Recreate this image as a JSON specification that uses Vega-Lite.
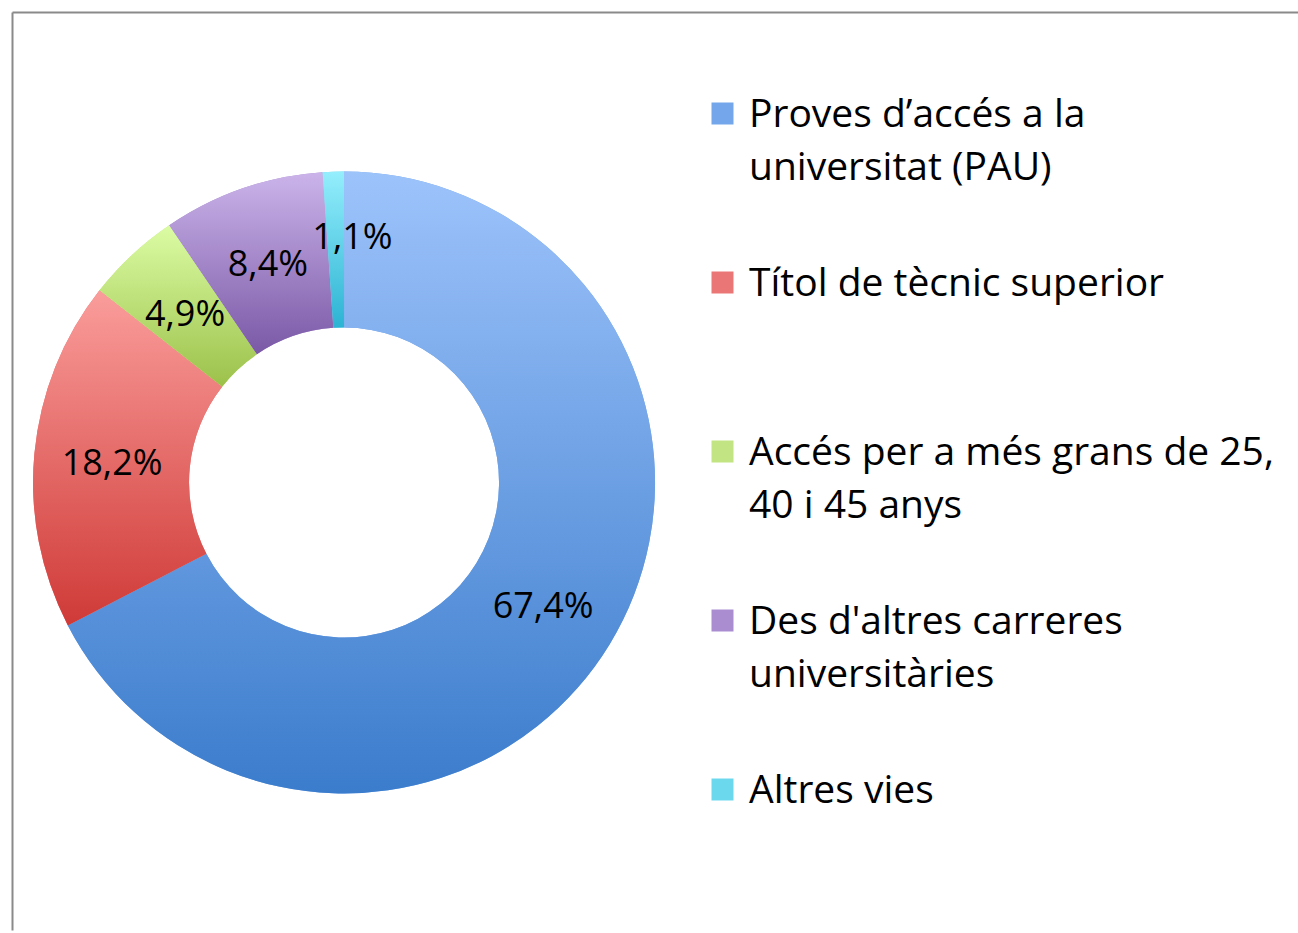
{
  "$schema": "https://vega.github.io/schema/vega-lite/v6.json",
  "autosize": {"type": "fit", "contains": "padding"},
  "width": 1298,
  "height": 933,
  "padding": {"left": 9, "top": 12, "right": 0, "bottom": 0},
  "background": "white",
  "config": {
    "view": {"stroke": null},
    "font": "Open Sans",
    "style": {"guide-label": {"lineHeight": 53, "dy": 13}}
  },
  "data": {
    "values": [
      {"cat": "Proves d’accés a la universitat (PAU)", "pct": 67.4, "order": 1},
      {"cat": "Títol de tècnic superior", "pct": 18.2, "order": 2},
      {"cat": "Accés per a més grans de 25, 40 i 45 anys", "pct": 4.9, "order": 3},
      {"cat": "Des d'altres carreres universitàries", "pct": 8.4, "order": 4},
      {"cat": "Altres vies", "pct": 1.1, "order": 5}
    ]
  },
  "transform": [
    {"calculate": "replace(format(datum.pct, '.1f'), '.', ',') + '%'", "as": "label"}
  ],
  "layer": [
    {
      "mark": {
        "type": "arc",
        "outerRadius": 311,
        "innerRadius": 155,
        "x": {"expr": "width*0.2582"},
        "y": {"expr": "height*0.5125"}
      },
      "encoding": {
        "theta": {"field": "pct", "type": "quantitative", "stack": true},
        "order": {"field": "order", "type": "quantitative"},
        "fill": {
          "field": "cat",
          "type": "nominal",
          "sort": ["Proves d’accés a la universitat (PAU)", "Títol de tècnic superior", "Accés per a més grans de 25, 40 i 45 anys", "Des d'altres carreres universitàries", "Altres vies"],
          "scale": {"range": ["#73a6ea", "#ea7775", "#c3e483", "#a98dd0", "#6bd8ee"]},
          "legend": {
            "title": null,
            "orient": "none",
            "legendX": 691,
            "legendY": 82,
            "padding": 0,
            "symbolType": "square",
            "symbolSize": 484,
            "symbolStrokeWidth": 0,
            "labelFont": "Open Sans",
            "labelFontSize": 39,
            "labelColor": "#000000",
            "labelLimit": 0,
            "labelOffset": 7,
            "labelBaseline": "alphabetic",
            "rowPadding": 75,
            "labelExpr": "datum.label == 'Proves d’accés a la universitat (PAU)' ? ['Proves d’accés a la', 'universitat (PAU)'] : datum.label == 'Títol de tècnic superior' ? ['Títol de tècnic superior', ''] : datum.label == 'Accés per a més grans de 25, 40 i 45 anys' ? ['Accés per a més grans de 25,', '40 i 45 anys'] : datum.label == \"Des d'altres carreres universitàries\" ? [\"Des d'altres carreres\", 'universitàries'] : ['Altres vies', '']"
          }
        }
      }
    },
    {
      "mark": {
        "type": "arc",
        "outerRadius": 311,
        "innerRadius": 155,
        "x": {"expr": "width*0.2582"},
        "y": {"expr": "height*0.5125"}
      },
      "encoding": {
        "theta": {"field": "pct", "type": "quantitative", "stack": true},
        "order": {"field": "order", "type": "quantitative"},
        "fill": {
          "condition": [
            {"test": "datum.order == 1", "value": {"gradient": "linear", "x1": 0, "y1": 0, "x2": 0, "y2": 1, "stops": [{"offset": 0, "color": "#9dc3fb"}, {"offset": 1, "color": "#3b7ccc"}]}},
            {"test": "datum.order == 2", "value": {"gradient": "linear", "x1": 0, "y1": 0, "x2": 0, "y2": 1, "stops": [{"offset": 0, "color": "#fa9d9b"}, {"offset": 1, "color": "#cf3a37"}]}},
            {"test": "datum.order == 3", "value": {"gradient": "linear", "x1": 0, "y1": 0, "x2": 0, "y2": 1, "stops": [{"offset": 0, "color": "#dcfca4"}, {"offset": 1, "color": "#9cc14a"}]}},
            {"test": "datum.order == 4", "value": {"gradient": "linear", "x1": 0, "y1": 0, "x2": 0, "y2": 1, "stops": [{"offset": 0, "color": "#cbb4ea"}, {"offset": 1, "color": "#7a58a6"}]}}
          ],
          "value": {"gradient": "linear", "x1": 0, "y1": 0, "x2": 0, "y2": 1, "stops": [{"offset": 0, "color": "#94eefc"}, {"offset": 1, "color": "#2cb3d3"}]}
        }
      }
    },
    {
      "mark": {
        "type": "text",
        "radius": 233,
        "dy": 3,
        "x": {"expr": "width*0.2582"},
        "y": {"expr": "height*0.5125"},
        "font": "Open Sans",
        "fontSize": 36,
        "color": "#000000"
      },
      "encoding": {
        "theta": {"field": "pct", "type": "quantitative", "stack": true},
        "order": {"field": "order", "type": "quantitative"},
        "text": {"condition": {"test": "datum.order != 5", "field": "label", "type": "nominal"}, "value": ""}
      }
    },
    {
      "mark": {
        "type": "text",
        "radius": 248,
        "dx": 17,
        "dy": 3,
        "x": {"expr": "width*0.2582"},
        "y": {"expr": "height*0.5125"},
        "font": "Open Sans",
        "fontSize": 36,
        "color": "#000000"
      },
      "encoding": {
        "theta": {"field": "pct", "type": "quantitative", "stack": true},
        "order": {"field": "order", "type": "quantitative"},
        "text": {"condition": {"test": "datum.order == 5", "field": "label", "type": "nominal"}, "value": ""}
      }
    },
    {
      "mark": {"type": "point", "opacity": 0},
      "encoding": {
        "x": {"datum": 0, "type": "quantitative", "scale": {"domain": [0, 1]}, "axis": {"orient": "top", "domain": true, "domainColor": "#8a8a8a", "domainWidth": 2, "ticks": false, "labels": false, "grid": false, "title": null}},
        "y": {"datum": 0, "type": "quantitative", "scale": {"domain": [0, 1]}, "axis": {"orient": "left", "domain": true, "domainColor": "#8a8a8a", "domainWidth": 2, "ticks": false, "labels": false, "grid": false, "title": null}}
      }
    }
  ]
}
